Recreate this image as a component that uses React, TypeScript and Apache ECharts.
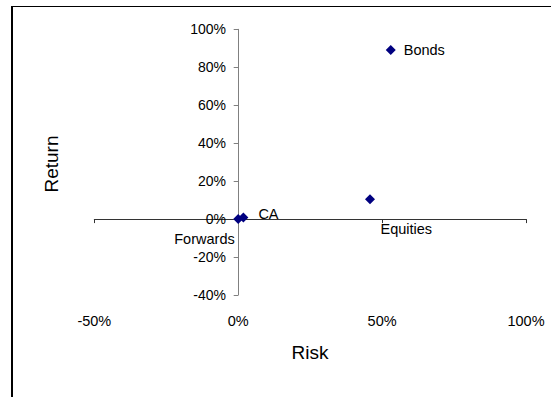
import React, { useEffect, useRef } from "react";
import * as echarts from "echarts";

const assetNames = ["Bonds", "Equities", "CA", "Forwards"];
const riskValues = [53.0, 45.8, 1.8, 0];
const returnValues = [89.1, 10.4, 0.9, 0];

const xTicks = { min: -50, max: 100, interval: 50 };
const yTicks = { min: -40, max: 100, interval: 20 };

const labelStyles: Record<string, any> = {
  Bonds: { align: "left", offset: [13, 0] },
  Equities: { align: "left", offset: [10.5, 29.5] },
  CA: { align: "left", offset: [15, -3] },
  Forwards: { align: "right", offset: [-3.5, 19.5] },
};

const FONT = "'Liberation Sans', Arial, sans-serif";
const GRID_LEFT = 94.3;
const Y_LABEL_RIGHT = 226;

export default function App() {
  const ref = useRef<HTMLDivElement>(null);
  useEffect(() => {
    if (!ref.current) return;
    const chart = echarts.init(ref.current, undefined, { renderer: "svg" });
    const data = assetNames.map((n, i) => ({
      name: n,
      value: [riskValues[i], returnValues[i]],
      label: {
        show: true,
        position: "inside",
        formatter: "{b}",
        verticalAlign: "middle",
        color: "#000",
        fontSize: 14.5,
        fontFamily: FONT,
        ...labelStyles[n],
      },
    }));
    chart.setOption({
      animation: false,
      backgroundColor: "#fff",
      textStyle: { fontFamily: FONT },
      grid: { left: GRID_LEFT, right: 25, top: 29.3, bottom: 102, containLabel: false },
      xAxis: [
        {
          type: "value",
          position: "bottom",
          min: xTicks.min,
          max: xTicks.max,
          interval: xTicks.interval,
          axisLine: { show: true, onZero: true, lineStyle: { color: "#333", width: 1 } },
          axisTick: { show: true, inside: false, length: 4, lineStyle: { color: "#333" } },
          axisLabel: { show: false },
          splitLine: { show: false },
        },
        {
          type: "value",
          position: "bottom",
          min: xTicks.min,
          max: xTicks.max,
          interval: xTicks.interval,
          axisLine: { show: false, onZero: false },
          axisTick: { show: false },
          axisLabel: {
            show: true,
            margin: 18,
            formatter: "{value}%",
            color: "#000",
            fontSize: 14.5,
            fontFamily: FONT,
          },
          splitLine: { show: false },
        },
      ],
      yAxis: {
        type: "value",
        min: yTicks.min,
        max: yTicks.max,
        interval: yTicks.interval,
        axisLine: { show: true, onZero: true, onZeroAxisIndex: 0, lineStyle: { color: "#808080", width: 1 } },
        axisTick: { show: true, inside: false, length: 4.5, lineStyle: { color: "#808080" } },
        axisLabel: {
          show: true,
          margin: GRID_LEFT - Y_LABEL_RIGHT,
          formatter: "{value}%",
          color: "#000",
          fontSize: 14,
          fontFamily: FONT,
        },
        splitLine: { show: false },
      },
      graphic: [
        {
          type: "line",
          shape: { x1: 12, y1: 6, x2: 12, y2: 400 },
          style: { stroke: "#000", lineWidth: 2 },
        },
        {
          type: "line",
          shape: { x1: 11, y1: 6.5, x2: 560, y2: 6.5 },
          style: { stroke: "#000", lineWidth: 1 },
        },
        {
          type: "text",
          x: 310,
          y: 352.7,
          style: {
            text: "Risk",
            fontSize: 19,
            fontFamily: FONT,
            fill: "#000",
            align: "center",
            verticalAlign: "middle",
          },
        },
        {
          type: "text",
          x: 51.7,
          y: 164,
          rotation: Math.PI / 2,
          style: {
            text: "Return",
            fontSize: 19,
            fontFamily: FONT,
            fill: "#000",
            align: "center",
            verticalAlign: "middle",
          },
        },
      ],
      series: [
        {
          type: "scatter",
          xAxisIndex: 0,
          yAxisIndex: 0,
          symbol: "diamond",
          symbolSize: 10,
          itemStyle: { color: "#000080", opacity: 1 },
          data,
        },
      ],
    });
    return () => chart.dispose();
  }, []);
  return (
    <div
      ref={ref}
      style={{ position: "absolute", left: 0, top: 0, width: 551, height: 397 }}
    />
  );
}
